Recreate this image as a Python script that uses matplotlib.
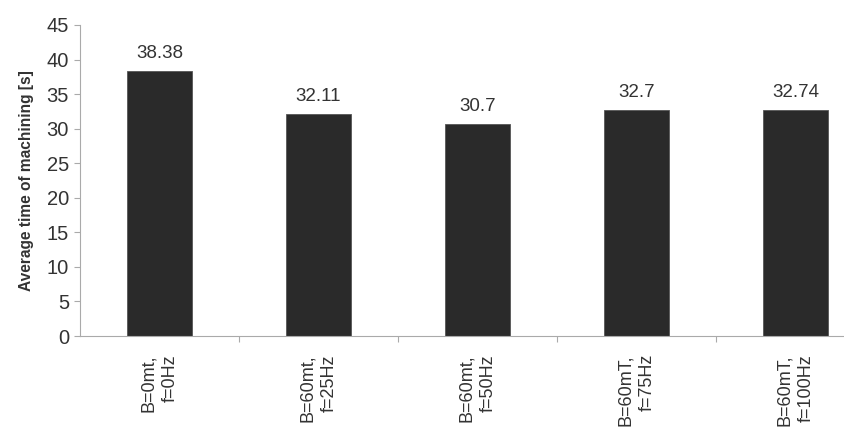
import matplotlib.pyplot as plt
import numpy as np

# Данные
labels = ["B=0mt,\nf=0Hz", "B=60mt,\nf=25Hz", "B=60mt,\nf=50Hz",
          "B=60mT,\nf=75Hz", "B=60mT,\nf=100Hz"]
times = [38.38, 32.11, 30.7, 32.7, 32.74]
time_labels = ["38.38", "32.11", "30.7", "32.7", "32.74"]

plt.rcParams['font.family'] = ['Liberation Sans', 'DejaVu Sans']

fig = plt.figure(figsize=(8.44, 4.41), dpi=100)
ax = fig.add_axes([80 / 844, 105 / 441, 795 / 844, 311 / 441])

x = np.arange(len(times))
ax.bar(x, times, width=0.41, color='#2a2a2a', edgecolor='#555555', linewidth=0.6)

for xi, v, t in zip(x, times, time_labels):
    ax.text(xi, v + 1.3, t, ha='center', va='bottom', fontsize=13.5, color='#333333')

ax.set_xlim(-0.5, 4.5)
ax.set_ylim(0, 45)
ax.set_yticks(np.arange(0, 46, 5))
ax.set_xticks(x)
ax.set_xticklabels(labels, rotation=90, ha='center', va='top', multialignment='right',
                   linespacing=1.35)
ax.set_xticks(x[:-1] + 0.5, minor=True)

ax.tick_params(axis='y', labelsize=14.5, colors='#aaaaaa', labelcolor='#333333', length=4, width=0.8, pad=4)
ax.tick_params(axis='x', which='major', length=0, labelsize=13, labelcolor='#333333', pad=13)
ax.tick_params(axis='x', which='minor', length=4, width=0.8, color='#aaaaaa')

ax.set_ylabel('Average time of machining [s]', fontsize=11.2, fontweight='bold', color='#333333', labelpad=9)

for s in ['top', 'right']:
    ax.spines[s].set_visible(False)
for s in ['left', 'bottom']:
    ax.spines[s].set_color('#aaaaaa')
    ax.spines[s].set_linewidth(0.8)

fig.savefig('out.png', dpi=100)
